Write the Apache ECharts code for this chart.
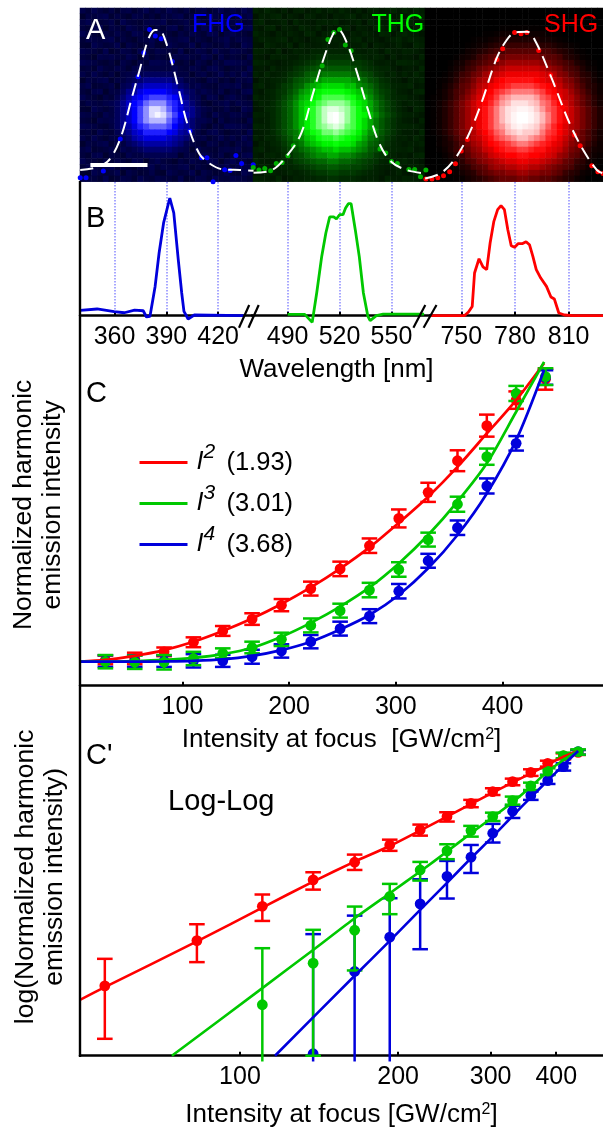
<!DOCTYPE html>
<html><head><meta charset="utf-8">
<style>html,body{margin:0;padding:0;background:#fff}#c{width:603px;height:1130px}</style>
<script src="https://cdn.jsdelivr.net/npm/echarts@6/dist/echarts.min.js"></script>
</head><body><div id="c"></div>
<script>
// ---------- Panel A: radial brightness (half-cell steps)
const ringsBlue=[1,.98,.93,.86,.78,.7,.63,.56,.5,.44,.38,.32,.27,.22,.18,.155,.13];
const ringsGreen=[1,1,.98,.94,.88,.8,.72,.64,.57,.52,.48,.43,.38,.33,.28,.24,.2,.175,.15,.13,.11,.095,.08,.07,.06,.055,.05];
const ringsRed=[1,1,1,.98,.96,.94,.9,.86,.8,.74,.68,.62,.57,.53,.5,.465,.43,.39,.35,.31,.27,.235,.2,.17,.14,.11,.08,.06,.04,.027,.015,.007,0];
const speckle=[
 [2,-1,3,0,-2,1,-3,1,2,-2,0,3,-1],
 [-3,1,0,2,3,-2,1,-1,-3,2,1,-2,0],
 [1,3,-2,-1,0,2,-3,3,0,-1,-2,1,2],
 [0,-2,2,3,-3,1,0,-2,3,1,-1,2,-3],
 [3,0,-1,-3,1,-1,2,0,-2,3,2,-3,1],
 [-1,2,1,0,2,3,-2,1,-1,-3,0,1,3],
 [-2,-3,3,1,-1,0,3,-3,2,0,-2,-1,2],
 [2,1,0,-2,3,-3,-1,2,1,-2,3,0,-1],
 [0,-1,-3,2,1,2,0,-1,3,1,-3,2,-2],
 [3,2,1,-1,-2,0,-3,2,0,-3,1,-1,3],
 [-1,0,-2,3,0,-1,2,1,-2,2,3,0,-3]];
// line scans over the images [position, height]
const dotsBlue=[[0,4],[5.7,4],[22.7,10.7],[39.3,42.7],[56.7,105],[62.3,129],[68,152.3],[73.7,145.7],[79.3,143],[90.3,120.3],[107.7,50.7],[119,24],[124.3,24],[130.3,0],[141.7,12],[147,11.3],[152.7,26.3],[158.3,18.3],[169.7,17]];
const dotsGreen=[[169.7,14.3],[175.3,11.7],[181,13.3],[186.7,11],[192.3,18.3],[198,19.3],[203.7,26],[209,36],[231.7,100],[237.3,116],[243,142.3],[248.7,149.3],[254.3,152.3],[260,136.7],[265.7,131],[288.3,51.7],[294,32.7],[299.7,28.7],[305.3,20.3],[311,18.3],[322.3,12.3],[328,12.3],[333.7,5],[339,11.7]];
const dotsRed=[[339,2.7],[345,2.7],[350.7,4],[356.3,6],[362.3,10],[368,18],[373.7,30.7],[379.7,42.3],[408.7,122.3],[414.3,133],[426,149.3],[432.3,148],[438,149.3],[449.7,131.3],[461.3,106.7],[473,75],[484.7,46.7],[490.3,36],[501.7,16],[507.7,10],[512.7,8.3]];
const fitBlue=[[0,11.7],[15,14],[28.3,21.7],[40,45],[50,81.7],[58.3,111.7],[66.7,142.3],[73.3,151.7],[77.3,151.7],[85,136.7],[96.7,91.7],[105,58.3],[116.7,28.3],[126.7,18.3],[140,12.3],[156.7,11.7],[170,11]];
const fitGreen=[[170,9],[186.7,11],[203.3,26.7],[216.7,48.3],[228.3,88.3],[238.3,121.7],[248.3,148.3],[253.3,151.7],[261.7,138.3],[271.7,108.3],[283.3,68.3],[293.3,38.3],[305,20],[320,11.7],[338.3,8.3]];
const fitRed=[[338.3,3.3],[353.3,8.3],[366.7,21.7],[380,45],[393.3,78.3],[408.3,123.3],[418.3,141.7],[426.7,149.3],[438.3,150],[446.7,140],[461.7,105],[480,58.3],[493.3,31.7],[506.7,11.7],[512.7,8.3]];
// ---------- Panel B: spectra [nm, intensity]
const specBlue=[[340.1,.045],[349.9,.057],[359.8,.034],[365.7,.025],[371.6,.048],[376.6,.042],[378.5,-.011],[380.5,-.006],[383.5,.249],[385.8,.533],[388.4,.788],[392,1],[394.3,.873],[396.9,.476],[398.9,.193],[400.2,.037],[402.6,-.028],[406.2,.006],[434.8,0]];
const specGreen=[[490,.011],[499.9,.011],[504.2,-.057],[506.8,.193],[509.7,.504],[512.1,.703],[514.3,.839],[516.6,.839],[518.2,.822],[520,.858],[522,.858],[523.5,.915],[525.1,.952],[526.7,.952],[529.1,.731],[531.4,.504],[533.8,.193],[536.4,-.006],[537.7,-.042],[541.3,0],[545.2,.014],[568.9,.014]];
const specRed=[[732.7,0],[751.7,0],[754,.031],[756.1,.079],[757.4,.363],[759.9,.484],[762.1,.414],[764.2,.391],[766.1,.618],[768.2,.802],[770.3,.901],[772.2,.935],[774.1,.901],[776,.731],[777.9,.595],[779.8,.581],[781.7,.612],[784,.612],[786.2,.629],[788.1,.603],[790,.504],[791.9,.391],[794.4,.32],[797.6,.249],[800.1,.159],[802,.142],[804.5,.023],[807.7,.006],[812.4,0],[829.2,0]];
const ticksBlue=[360,390,420], ticksGreen=[490,520,550], ticksRed=[750,780,810];
// ---------- Panel C: linear scale
const intensity=[27.8,55.3,82.8,110.3,137.8,165.3,192.8,220.3,247.8,275.3,302.8,330.3,357.8,385.3,412.8,440.3];
const redMean=[.006,.011,.034,.067,.106,.147,.195,.252,.32,.4,.494,.584,.693,.814,.902,.974];
const redErr=[.015,.02,.015,.017,.017,.02,.021,.024,.025,.025,.031,.033,.036,.038,.03,.036];
const greenMean=[0,-.002,-.002,.011,.029,.049,.077,.125,.176,.247,.318,.421,.543,.707,.925,.983];
const greenErr=[.023,.023,.025,.023,.017,.02,.023,.024,.024,.025,.025,.024,.026,.028,.026,.029];
const blueMean=[.002,.002,.002,.003,.003,.017,.037,.069,.114,.157,.243,.348,.462,.606,.753,.98];
const blueErr=[.02,.02,.02,.023,.021,.024,.023,.023,.024,.024,.025,.024,.025,.026,.025,.025];
const fitX=[4,27.8,55.3,82.8,110.3,137.8,165.3,192.8,220.3,247.8,275.3,302.8,330.3,357.8,385.3,412.8,439];
const fitLinRed=[0,.006,.02,.04,.069,.106,.149,.199,.256,.321,.394,.479,.569,.672,.787,.902,1.029];
const fitLinGreen=[0,0,.002,.006,.013,.026,.048,.086,.134,.19,.256,.339,.437,.552,.684,.862,1.034];
const fitLinBlue=[0,0,0,.001,.003,.008,.02,.04,.069,.111,.161,.23,.322,.437,.58,.764,1.006];
const ticksC=[100,200,300,400];
// ---------- Panel C': log10 of normalized intensity
const logX=intensity.slice(1);
const logRed=[-1.631,-1.316,-1.077,-.893,-.77,-.65,-.545,-.452,-.36,-.278,-.209,-.144,-.081,-.03,-.005];
const logRedHi=[-1.443,-1.202,-.995,-.84,-.717,-.613,-.508,-.422,-.336,-.255,-.188,-.123,-.063,-.012,.012];
const logRedLo=[-2,-1.466,-1.179,-.961,-.824,-.691,-.585,-.487,-.387,-.302,-.234,-.169,-.104,-.053,-.023];
const logGreenX=logX.slice(2);
const logGreen=[-1.763,-1.473,-1.244,-1.009,-.824,-.691,-.55,-.452,-.341,-.239,-.135,-.028,0];
const logGreenHi=[-1.369,-1.241,-1.079,-.921,-.768,-.645,-.517,-.425,-.313,-.216,-.116,-.007,.016];
const logGreenLo=[-2.158,-2.118,-1.524,-1.132,-.898,-.749,-.592,-.483,-.369,-.267,-.162,-.046,-.021];
const logBlueX=logX.slice(3);
const logBlue=[-2.104,-1.531,-1.292,-1.06,-.868,-.735,-.568,-.415,-.306,-.202,-.104,0];
const logBlueHi=[-1.271,-1.142,-1.021,-.889,-.761,-.65,-.503,-.378,-.278,-.162,-.081,.012];
const logBlueLo=[-2.158,-2.158,-2.158,-1.376,-1.023,-.845,-.633,-.462,-.336,-.225,-.132,-.021];
const lineLogRed=[[49.6,-1.729],[55.3,-1.64],[82.8,-1.322],[110.3,-1.086],[137.8,-.905],[165.3,-.766],[192.8,-.657],[247.8,-.452],[302.8,-.285],[357.8,-.151],[412.8,-.035],[440.3,.005]];
const lineLogGreen=[[74.2,-2.118],[110.3,-1.647],[137.8,-1.381],[165.3,-1.16],[192.8,-.986],[220.3,-.835],[247.8,-.696],[275.3,-.568],[302.8,-.457],[330.3,-.353],[357.8,-.244],[385.3,-.139],[412.8,-.058],[440.3,.005]];
const lineLogBlue=[[116.6,-2.118],[165.3,-1.561],[192.8,-1.318],[220.3,-1.102],[247.8,-.914],[275.3,-.742],[302.8,-.592],[330.3,-.448],[357.8,-.318],[385.3,-.202],[412.8,-.093],[440.3,.005]];
const ticksLog=[100,200,300,400];

const RED='#ff0000', GREEN='#00c800', BLUE='#0000dc', FONT='"Liberation Sans", Arial, sans-serif';
const BLACK='#000';

function image(rings,cols,rows,cx,cy,bg,amp){
  const d=[];
  for(let r=0;r<rows;r++)for(let c=0;c<cols;c++){
    const dist=Math.hypot(c-cx,r-cy);
    const idx=Math.round(dist*2);
    const ring=idx<rings.length?rings[idx]:0;
    const floor=bg+amp*speckle[r%11][c%13];
    d.push([c,r,Math.max(ring,floor)]);
  }
  return d;
}
const idxs=n=>Array.from({length:n},(_,i)=>i);
const gridBase={outerBoundsMode:'none',containLabel:false};
const grids=[
 {left:80,top:8,width:173,height:173.7},
 {left:253,top:8,width:172,height:173.7},
 {left:425,top:8,width:178,height:173.7},
 {left:80.2,top:8,width:522.8,height:173.7},
 {left:80,top:182,width:172,height:133.7},
 {left:252,top:182,width:178,height:133.7},
 {left:430,top:182,width:173,height:133.7},
 {left:80,top:324,width:523,height:361.7},
 {left:80,top:698,width:523,height:357.7}
].map(g=>Object.assign({},gridBase,g));
function heatAxes(g,cols,rows){
  return {x:{gridIndex:g,type:'category',data:idxs(cols),show:false},y:{gridIndex:g,type:'category',data:idxs(rows),show:false,inverse:true}};
}
const h0=heatAxes(0,30,30),h1=heatAxes(1,30,30),h2=heatAxes(2,31,30);
const tickLabel={color:BLACK,fontFamily:FONT,fontSize:25,margin:9};
const xLine={show:true,onZero:false,lineStyle:{color:BLACK,width:2.5}};
function bAxis(g,min,max,ticks,extra){
  return Object.assign({gridIndex:g,type:'value',min,max,axisLine:xLine,
    axisTick:{show:true,inside:true,length:4,lineStyle:{color:BLACK,width:2},customValues:ticks},
    axisLabel:Object.assign({customValues:ticks,showMinLabel:true,showMaxLabel:true},tickLabel),
    splitLine:{show:true,lineStyle:{color:'#8a8aff',type:'dotted',width:1.5}}},extra||{});
}
const axisTitle={color:BLACK,fontFamily:FONT,fontSize:26,
  rich:{sup:{fontSize:16,verticalAlign:'top',padding:[0,0,10,0],fontFamily:FONT,color:BLACK},
        t:{fontSize:26,fontFamily:FONT,color:BLACK}}};
const xAxes=[h0.x,h1.x,h2.x,
 {gridIndex:3,type:'value',min:0,max:512.7,show:false},
 bAxis(4,340,439.6,ticksBlue),
 bAxis(5,469.4,572.3,ticksGreen,{name:'Wavelength [nm]',nameLocation:'middle',nameGap:41,nameTextStyle:{color:BLACK,fontFamily:FONT,fontSize:26,padding:[0,9,0,0]}}),
 bAxis(6,732.5,829.2,ticksRed),
 {gridIndex:7,type:'value',min:4,max:494.2,axisLine:xLine,
  axisTick:{show:true,inside:true,length:4,lineStyle:{color:BLACK,width:2},customValues:ticksC},
  axisLabel:Object.assign({customValues:ticksC},tickLabel),splitLine:{show:false},
  name:'{t|Intensity at focus  [GW/cm}{sup|2}{t|]}',nameLocation:'middle',nameGap:41,nameTextStyle:axisTitle},
 {gridIndex:8,type:'value',min:Math.log10(49.6),max:Math.log10(491),axisLine:xLine,
  axisTick:{show:true,inside:true,length:4,lineStyle:{color:BLACK,width:2},customValues:ticksLog.map(Math.log10)},
  axisLabel:Object.assign({customValues:ticksLog.map(Math.log10),formatter:v=>String(Math.round(Math.pow(10,v)))},tickLabel),splitLine:{show:false},
  name:'{t|Intensity at focus [GW/cm}{sup|2}{t|]}',nameLocation:'middle',nameGap:46,nameTextStyle:axisTitle}
];
const yTitle={color:BLACK,fontFamily:FONT,fontSize:26.5,lineHeight:29};
const yAxes=[h0.y,h1.y,h2.y,
 {gridIndex:3,type:'value',min:0,max:173.7,show:false},
 {gridIndex:4,type:'value',min:0,max:1.136,show:false},
 {gridIndex:5,type:'value',min:0,max:1.136,show:false},
 {gridIndex:6,type:'value',min:0,max:1.136,show:false},
 {gridIndex:7,type:'value',min:-.0828,max:1.1645,axisLine:{show:false},axisTick:{show:false},axisLabel:{show:false},splitLine:{show:false},
  name:'Normalized harmonic\nemission intensity',nameLocation:'middle',nameGap:13,nameTextStyle:yTitle},
 {gridIndex:8,type:'value',min:-2.1177,max:.3737,axisLine:{show:false},axisTick:{show:false},axisLabel:{show:false},splitLine:{show:false},
  name:'log(Normalized harmonic\nemission intensity)',nameLocation:'middle',nameGap:11,nameTextStyle:yTitle}
];
function heat(i,data){return {type:'heatmap',xAxisIndex:i,yAxisIndex:i,data,progressive:0,silent:true,z:1};}
function dots(data,color){return {type:'scatter',xAxisIndex:3,yAxisIndex:3,data,symbolSize:5,itemStyle:{color,opacity:1},silent:true,z:3,clip:false};}
function dash(data){return {type:'line',xAxisIndex:3,yAxisIndex:3,data,smooth:.35,symbol:'none',silent:true,z:4,lineStyle:{color:'#fff',width:2,type:[13,7]}};}
function spec(i,data,color){return {type:'line',xAxisIndex:i,yAxisIndex:i,data,symbol:'none',clip:false,silent:true,lineStyle:{color,width:2.8}};}
function bars(g,color,rows,clipDot){
  return {type:'custom',xAxisIndex:g,yAxisIndex:g,data:rows,silent:true,clip:false,encode:{x:0,y:1},
    renderItem(params,api){
      const x=api.value(0),p=api.coord([x,api.value(1)]),a=api.coord([x,api.value(3)]),b=api.coord([x,api.value(2)]);
      const cs=params.coordSys,cap=7.8,st={stroke:color,lineWidth:2.5,fill:null};
      const kids=[{type:'line',shape:{x1:a[0],y1:a[1],x2:b[0],y2:b[1]},style:st},
        {type:'line',shape:{x1:a[0]-cap,y1:a[1],x2:a[0]+cap,y2:a[1]},style:st}];
      if(api.value(2)>=-2.12) kids.push({type:'line',shape:{x1:b[0]-cap,y1:b[1],x2:b[0]+cap,y2:b[1]},style:st});
      const dot={type:'circle',shape:{cx:p[0],cy:p[1],r:5.4},style:{fill:color}};
      if(clipDot) dot.clipPath={type:'rect',shape:{x:cs.x,y:cs.y,width:cs.width,height:cs.height}};
      kids.push(dot);
      return {type:'group',children:kids};
    }};
}
function linRows(mean,err){return intensity.map((x,i)=>[x,mean[i],mean[i]-err[i],mean[i]+err[i]]);}
function logRows(xs,mean,lo,hi){return xs.map((x,i)=>[Math.log10(x),mean[i],lo[i],hi[i]]);}
function fitLin(ys,color,name){return {name,type:'line',xAxisIndex:7,yAxisIndex:7,data:fitX.map((x,i)=>[x,ys[i]]),smooth:.3,symbol:'none',clip:false,silent:true,color,itemStyle:{color},lineStyle:{color,width:2.7}};}
function fitLog(d,color){return {type:'line',xAxisIndex:8,yAxisIndex:8,data:d.map(p=>[Math.log10(p[0]),p[1]]),smooth:.2,symbol:'none',clip:true,silent:true,lineStyle:{color,width:2.6}};}
const names=['I2','I3','I4'], expo={I2:['2','1.93'],I3:['3','3.01'],I4:['4','3.68']};
const series=[
 heat(0,image(ringsBlue,30,30,12.8,17.75,.12,.01)),
 heat(1,image(ringsGreen,30,30,13.76,18.3,.055,.005)),
 heat(2,image(ringsRed,31,30,16.4,18.3,0,0)),
 dots(dotsBlue,'#0000ff'),dots(dotsGreen,'#00b000'),dots(dotsRed,'#ff0000'),
 dash(fitBlue),dash(fitGreen),dash(fitRed),
 {type:'line',xAxisIndex:3,yAxisIndex:3,data:[[10,16.7],[66,16.7]],symbol:'none',silent:true,z:5,lineStyle:{color:'#fff',width:4,cap:'butt'}},
 spec(4,specBlue,BLUE),spec(5,specGreen,GREEN),spec(6,specRed,RED),
 bars(7,RED,linRows(redMean,redErr)),bars(7,BLUE,linRows(blueMean,blueErr)),bars(7,GREEN,linRows(greenMean,greenErr)),
 fitLin(fitLinRed,RED,'I2'),fitLin(fitLinGreen,GREEN,'I3'),fitLin(fitLinBlue,BLUE,'I4'),
 bars(8,RED,logRows(logX,logRed,logRedLo,logRedHi),true),
 bars(8,BLUE,logRows(logBlueX,logBlue,logBlueLo,logBlueHi),true),
 bars(8,GREEN,logRows(logGreenX,logGreen,logGreenLo,logGreenHi),true),
 fitLog(lineLogRed,RED),fitLog(lineLogGreen,GREEN),fitLog(lineLogBlue,BLUE)
];
function label(text,left,top,size,fill){return {type:'text',left,top,z:20,silent:true,style:{text,fill,font:size+'px '+FONT}};}
function stroke(x1,y1,x2,y2,w){return {type:'line',z:20,silent:true,shape:{x1,y1,x2,y2},style:{stroke:'#000',lineWidth:w,lineCap:'butt'}};}
const graphic=[
 stroke(80,181,80,1057,2.4),
 stroke(239,327.7,249.2,305,2.2),stroke(248.5,327.7,258.7,305,2.2),
 stroke(413.4,327.7,425.3,305,2.2),stroke(423.6,327.7,436.5,305,2.2),
 label('A',86,16,29,'#fff'),
 label('FHG',192,13,25,'#0000ff'),label('THG',371.5,13,25,'#00ff00'),label('SHG',544,13,25,'#ff0000'),
 label('B',86,204,29,'#000'),label('C',86,379,29,'#000'),label("C'",86,741,29,'#000'),
 label('Log-Log',168,787,29,'#000')
];
const chart=echarts.init(document.getElementById('c'),null,{renderer:'canvas'});
chart.setOption({
 animation:false,backgroundColor:'#fff',textStyle:{fontFamily:FONT},
 grid:grids,xAxis:xAxes,yAxis:yAxes,series,graphic,
 visualMap:[
  {show:false,seriesIndex:0,dimension:2,min:0,max:1,inRange:{color:['#000000','#0000ff','#ffffff']}},
  {show:false,seriesIndex:1,dimension:2,min:0,max:1,inRange:{color:['#000000','#00ff00','#ffffff']}},
  {show:false,seriesIndex:2,dimension:2,min:0,max:1,inRange:{color:['#000000','#ff0000','#ffffff']}}
 ],
 legend:{show:true,data:names,left:134.5,top:437,orient:'vertical',icon:'rect',itemWidth:48,itemHeight:2.8,itemGap:0,selectedMode:false,
  formatter:n=>`{i|I}{s|${expo[n][0]}}{n|(${expo[n][1]})}`,
  textStyle:{rich:{
    i:{fontFamily:FONT,fontStyle:'italic',fontSize:25,color:BLACK,padding:[0,0,0,4],lineHeight:38},
    s:{fontFamily:FONT,fontStyle:'italic',fontSize:21,color:BLACK,padding:[0,0,20,0],width:23,lineHeight:38},
    n:{fontFamily:FONT,fontSize:25.5,color:BLACK,lineHeight:38}}}}
});
</script></body></html>
